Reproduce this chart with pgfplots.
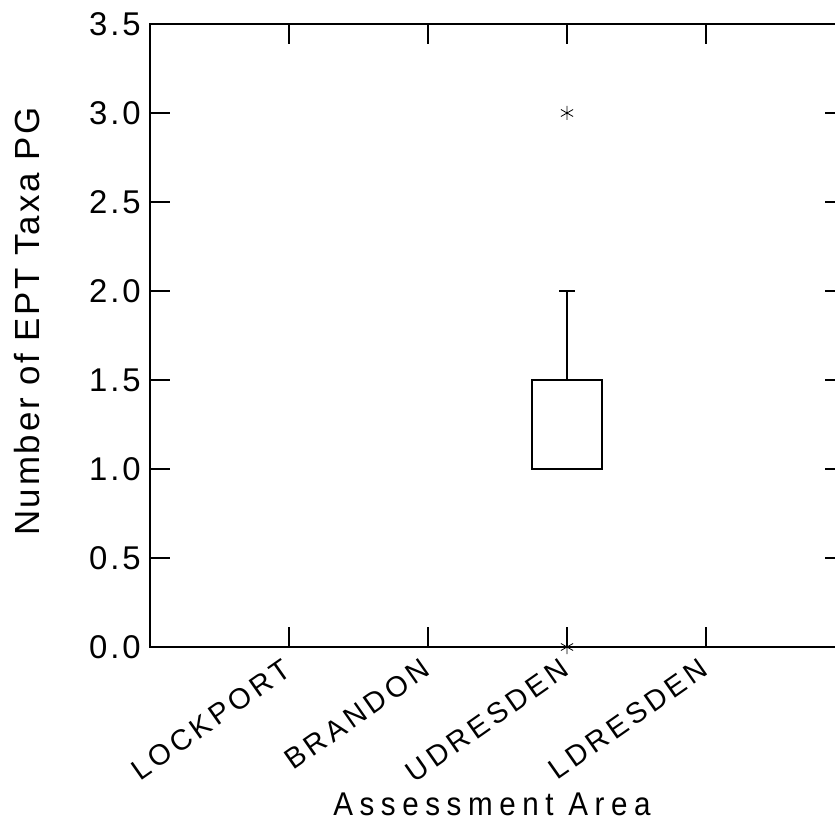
\documentclass[border=0pt]{standalone}
\usepackage{fontspec}
\setmainfont{Liberation Sans}
\newfontfamily\tickfont{Liberation Sans}[LetterSpace=9]
\newfontfamily\catfont{Liberation Sans}[LetterSpace=14]
\newfontfamily\ylabfont{Liberation Sans}[LetterSpace=8]
\newfontfamily\xlabfont{Liberation Sans}[FakeStretch=0.9,LetterSpace=20]
\usepackage{pgfplots}
\usepgfplotslibrary{statistics}
\pgfplotsset{compat=1.18}
\begin{document}
\begin{tikzpicture}
\useasboundingbox (-150bp,-178bp) rectangle (685bp,647bp);
\begin{axis}[
  at={(0,0)}, anchor=origin,
  x=139bp, y=178bp,
  xmin=0, xmax=5, ymin=0, ymax=3.5,
  clip=false,
  xtick={1,2,3,4},
  xticklabels={LOCKPORT,BRANDON,UDRESDEN,LDRESDEN},
  ytick={0,0.5,1,1.5,2,2.5,3,3.5},
  /pgf/number format/assume math mode=true,
  /pgf/number format/fixed,
  /pgf/number format/fixed zerofill,
  /pgf/number format/precision=1,
  tick align=inside,
  major tick length=20bp,
  tick style={black, line width=1.4bp},
  axis line style={black, line width=1.6bp},
  yticklabel style={font=\tickfont\fontsize{33}{33}\selectfont, inner sep=0pt, xshift=-9bp},
  xticklabel style={font=\catfont\fontsize{29}{29}\selectfont, rotate=35, anchor=north east, inner sep=0pt, yshift=-4bp, xshift=-12bp},
  xlabel={Assessment Area},
  ylabel={Number of EPT Taxa PG},
  xlabel style={font=\xlabfont\fontsize{33}{33}\selectfont, at={(axis description cs:0.492,-0.27)}, anchor=base},
  ylabel style={font=\ylabfont\fontsize{35}{35}\selectfont, at={(axis description cs:-0.177,0.522)}, anchor=center},
]
\addplot[black, line width=1.6bp, mark=asterisk, mark size=7bp,
  mark options={line width=0.8bp},
  boxplot/draw direction=y,
  boxplot prepared={draw position=3, lower whisker=1, lower quartile=1,
    median=1, upper quartile=1.5, upper whisker=2,
    box extend=0.5, whisker extend=0.115}]
  table[row sep=\\, y index=0] {y\\ 3\\ 0\\};
\end{axis}
\end{tikzpicture}
\end{document}
